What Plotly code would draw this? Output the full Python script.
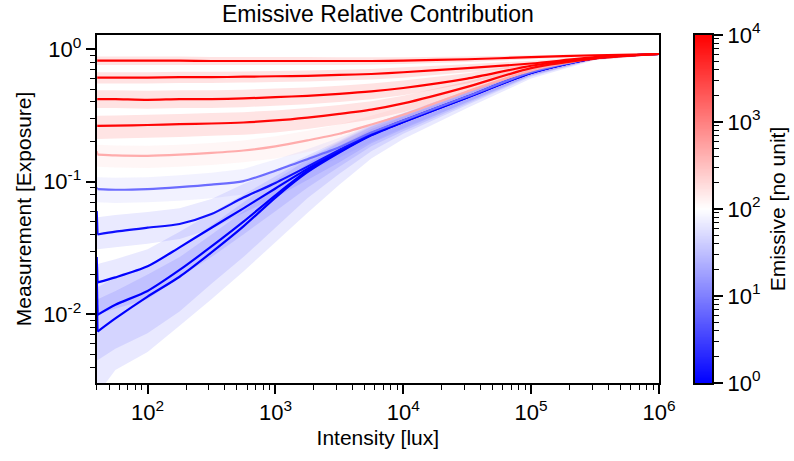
import plotly.graph_objects as go
import numpy as np

# ---------------- data ----------------
intensity = [40, 40.6, 56, 100, 178, 316, 562, 1000, 1778, 3162, 5623,
             10000, 31623, 100000, 316228, 1000000]

# emissive value of each curve (sets its colour on the bwr / log scale)
emissive = [1, 1, 1, 1.3, 7, 450, 9000, 10000, 10000, 10000]

meas = [
    [0.014, 0.0074, 0.0093, 0.0136, 0.0192, 0.0293, 0.046, 0.076, 0.118, 0.166, 0.224, 0.282, 0.432, 0.662, 0.855, 0.92],
    [0.02, 0.0099, 0.0118, 0.015, 0.0216, 0.0325, 0.05, 0.079, 0.121, 0.168, 0.226, 0.283, 0.433, 0.663, 0.855, 0.92],
    [0.027, 0.0174, 0.019, 0.023, 0.032, 0.045, 0.063, 0.089, 0.125, 0.17, 0.228, 0.285, 0.435, 0.665, 0.855, 0.92],
    [0.06, 0.040, 0.042, 0.045, 0.048, 0.057, 0.076, 0.098, 0.13, 0.174, 0.232, 0.29, 0.44, 0.67, 0.86, 0.92],
    [0.09, 0.088, 0.087, 0.088, 0.091, 0.095, 0.101, 0.121, 0.148, 0.182, 0.235, 0.29, 0.44, 0.67, 0.86, 0.92],
    [0.17, 0.16, 0.158, 0.157, 0.16, 0.165, 0.172, 0.185, 0.205, 0.23, 0.27, 0.32, 0.48, 0.69, 0.86, 0.92],
    [0.264, 0.264, 0.265, 0.268, 0.272, 0.275, 0.28, 0.29, 0.305, 0.325, 0.35, 0.39, 0.52, 0.72, 0.85, 0.92],
    [0.42, 0.42, 0.42, 0.415, 0.42, 0.42, 0.425, 0.435, 0.445, 0.46, 0.48, 0.51, 0.60, 0.75, 0.86, 0.92],
    [0.61, 0.61, 0.61, 0.61, 0.615, 0.615, 0.62, 0.625, 0.63, 0.64, 0.65, 0.67, 0.72, 0.78, 0.87, 0.92],
    [0.82, 0.82, 0.82, 0.82, 0.82, 0.815, 0.815, 0.815, 0.815, 0.815, 0.815, 0.82, 0.84, 0.87, 0.90, 0.92],
]

meas_low = [
    [0.0025, 0.0025, 0.0038, 0.0052, 0.0082, 0.013, 0.021, 0.035, 0.058, 0.095, 0.15, 0.21, 0.36, 0.6, 0.83, 0.91],
    [0.0045, 0.0045, 0.0055, 0.0072, 0.0105, 0.017, 0.027, 0.045, 0.075, 0.115, 0.17, 0.23, 0.38, 0.62, 0.84, 0.915],
    [0.01, 0.01, 0.011, 0.013, 0.019, 0.027, 0.04, 0.06, 0.09, 0.13, 0.185, 0.24, 0.39, 0.63, 0.84, 0.915],
    [0.031, 0.031, 0.032, 0.034, 0.037, 0.044, 0.058, 0.076, 0.103, 0.14, 0.195, 0.25, 0.4, 0.635, 0.845, 0.915],
    [0.07, 0.07, 0.069, 0.07, 0.072, 0.075, 0.08, 0.097, 0.12, 0.152, 0.2, 0.255, 0.4, 0.64, 0.845, 0.915],
    [0.135, 0.13, 0.128, 0.127, 0.13, 0.134, 0.14, 0.15, 0.168, 0.19, 0.225, 0.27, 0.42, 0.64, 0.83, 0.91],
    [0.21, 0.21, 0.212, 0.215, 0.218, 0.222, 0.226, 0.235, 0.25, 0.27, 0.295, 0.335, 0.47, 0.68, 0.83, 0.91],
    [0.36, 0.36, 0.36, 0.355, 0.36, 0.36, 0.365, 0.375, 0.385, 0.40, 0.42, 0.45, 0.55, 0.71, 0.84, 0.91],
    [0.55, 0.55, 0.55, 0.55, 0.555, 0.555, 0.56, 0.565, 0.57, 0.58, 0.59, 0.61, 0.67, 0.74, 0.85, 0.91],
    [0.76, 0.76, 0.76, 0.76, 0.76, 0.76, 0.76, 0.76, 0.76, 0.76, 0.765, 0.775, 0.80, 0.84, 0.88, 0.91],
]

meas_high = [
    [0.013, 0.013, 0.015, 0.02, 0.027, 0.04, 0.06, 0.092, 0.137, 0.187, 0.25, 0.31, 0.47, 0.69, 0.875, 0.925],
    [0.016, 0.016, 0.019, 0.023, 0.032, 0.047, 0.07, 0.103, 0.147, 0.197, 0.26, 0.32, 0.48, 0.70, 0.875, 0.925],
    [0.024, 0.024, 0.026, 0.031, 0.042, 0.058, 0.08, 0.11, 0.152, 0.2, 0.265, 0.325, 0.48, 0.70, 0.875, 0.925],
    [0.054, 0.054, 0.056, 0.059, 0.063, 0.074, 0.096, 0.122, 0.158, 0.205, 0.27, 0.33, 0.485, 0.705, 0.88, 0.925],
    [0.108, 0.108, 0.107, 0.108, 0.112, 0.117, 0.125, 0.147, 0.176, 0.215, 0.27, 0.33, 0.485, 0.705, 0.88, 0.925],
    [0.19, 0.19, 0.188, 0.187, 0.19, 0.196, 0.205, 0.22, 0.243, 0.27, 0.315, 0.37, 0.53, 0.73, 0.88, 0.93],
    [0.315, 0.315, 0.316, 0.32, 0.325, 0.33, 0.335, 0.345, 0.36, 0.38, 0.405, 0.445, 0.57, 0.76, 0.87, 0.93],
    [0.49, 0.49, 0.49, 0.485, 0.49, 0.49, 0.495, 0.505, 0.515, 0.53, 0.55, 0.58, 0.66, 0.79, 0.88, 0.93],
    [0.67, 0.67, 0.67, 0.67, 0.675, 0.675, 0.68, 0.685, 0.69, 0.70, 0.71, 0.73, 0.77, 0.82, 0.89, 0.93],
    [0.88, 0.88, 0.88, 0.88, 0.88, 0.875, 0.875, 0.875, 0.875, 0.87, 0.87, 0.87, 0.88, 0.90, 0.92, 0.93],
]

x_ticks = [1e2, 1e3, 1e4, 1e5, 1e6]
x_ticktext = ["10<sup>2</sup>", "10<sup>3</sup>", "10<sup>4</sup>", "10<sup>5</sup>", "10<sup>6</sup>"]
y_ticks = [1e-2, 1e-1, 1e0]
y_ticktext = ["10<sup>-2</sup>", "10<sup>-1</sup>", "10<sup>0</sup>"]
cb_ticks = [0, 1, 2, 3, 4]
cb_ticktext = ["10<sup>0</sup>", "10<sup>1</sup>", "10<sup>2</sup>", "10<sup>3</sup>", "10<sup>4</sup>"]

# ---------------- styling helpers ----------------
E_MIN, E_MAX = 1.0, 1e4


def bwr(t):
    t = min(max(t, 0.0), 1.0)
    if t < 0.5:
        v = 2 * t
        return (v, v, 1.0)
    v = 2 * (1 - t)
    return (1.0, v, v)


def color_of(e, alpha=None):
    t = (np.log10(e) - np.log10(E_MIN)) / (np.log10(E_MAX) - np.log10(E_MIN))
    r, g, b = bwr(t)
    r, g, b = int(round(r * 255)), int(round(g * 255)), int(round(b * 255))
    if alpha is None:
        return f"rgb({r},{g},{b})"
    return f"rgba({r},{g},{b},{alpha})"


FONT = "Liberation Sans, Arial, sans-serif"
W, H = 794, 461
L, R, T, B = 96.7, 659.0, 35.0, 383.0
CB_L, CB_R = 695.0, 712.0

fig = go.Figure()

# shaded spread bands
for e, lo, hi in zip(emissive, meas_low, meas_high):
    alpha = 0.085 if e < 100 else 0.11
    fig.add_trace(go.Scatter(
        x=intensity + intensity[::-1],
        y=hi + lo[::-1],
        fill="toself", mode="none",
        fillcolor=color_of(e, alpha),
        hoverinfo="skip", showlegend=False,
        xaxis="x", yaxis="y",
    ))

# mean curves: the initial vertical spike, then the smooth curve
for e, ys in zip(emissive, meas):
    fig.add_trace(go.Scatter(
        x=intensity[:2], y=ys[:2], mode="lines",
        line=dict(color=color_of(e), width=2.2),
        showlegend=False, xaxis="x", yaxis="y",
    ))
    fig.add_trace(go.Scatter(
        x=intensity[1:], y=ys[1:], mode="lines",
        line=dict(color=color_of(e), width=2.2, shape="spline", smoothing=0.7),
        showlegend=False, xaxis="x", yaxis="y",
    ))

# colour bar drawn as a heatmap on its own axis
levels = np.linspace(0, 4, 401)
fig.add_trace(go.Heatmap(
    x=[0], y=levels, z=[[v] for v in levels],
    colorscale=[[0, "rgb(0,0,255)"], [0.5, "rgb(255,255,255)"], [1, "rgb(255,0,0)"]],
    zmin=0, zmax=4, showscale=False, hoverinfo="skip",
    xaxis="x2", yaxis="y2",
))

minor_x = [k * 10 ** d for d in range(1, 6) for k in range(2, 10) if k * 10 ** d >= 40]
minor_y = [k * 10.0 ** d for d in range(-3, 1) for k in range(2, 10)]
minor_cb = [d + np.log10(k) for d in range(0, 4) for k in range(2, 10)]

axis_common = dict(showline=True, linecolor="black", linewidth=2, mirror=True,
                   ticks="outside", ticklen=9, tickwidth=1.5, tickcolor="black",
                   showgrid=False, zeroline=False, automargin=False,
                   tickfont=dict(family=FONT, size=22, color="black"))

fig.update_layout(
    template="none",
    width=W, height=H,
    margin=dict(l=0, r=0, t=0, b=0, autoexpand=False),
    paper_bgcolor="white", plot_bgcolor="white",
    font=dict(family=FONT, color="black"),
    title=dict(text="Emissive Relative Contribution", x=(L + R) / 2 / W, xanchor="center",
               y=1 - 14 / H, yanchor="middle", font=dict(size=23, family=FONT, color="black")),
    xaxis=dict(type="log", range=[np.log10(40), 6], domain=[L / W, R / W],
               tickmode="array", tickvals=x_ticks, ticktext=x_ticktext,
               minor=dict(tickmode="array", tickvals=minor_x, ticks="outside", ticklen=5,
                          tickwidth=1.2, tickcolor="black"),
               title=dict(text="Intensity [lux]", font=dict(size=21, family=FONT), standoff=6),
               anchor="y", **axis_common),
    yaxis=dict(type="log", range=[np.log10(0.00303), np.log10(1.28)], domain=[1 - B / H, 1 - T / H],
               tickmode="array", tickvals=y_ticks, ticktext=y_ticktext,
               minor=dict(tickmode="array", tickvals=minor_y, ticks="outside", ticklen=5,
                          tickwidth=1.2, tickcolor="black"),
               title=dict(text="Measurement [Exposure]", font=dict(size=21, family=FONT), standoff=6),
               anchor="x", **axis_common),
    xaxis2=dict(domain=[CB_L / W, CB_R / W], range=[-0.5, 0.5], showticklabels=False,
                showline=True, linecolor="black", linewidth=2, mirror=True, ticks="",
                showgrid=False, zeroline=False, anchor="y2", automargin=False),
    yaxis2=dict(domain=[1 - B / H, 1 - T / H], range=[0, 4], side="right",
                tickmode="array", tickvals=cb_ticks, ticktext=cb_ticktext,
                minor=dict(tickmode="array", tickvals=minor_cb, ticks="outside", ticklen=5,
                           tickwidth=1.2, tickcolor="black"),
                title=dict(text="Emissive [no unit]", font=dict(size=21, family=FONT), standoff=10),
                anchor="x2", **axis_common),
)

fig.write_html("out.html")
